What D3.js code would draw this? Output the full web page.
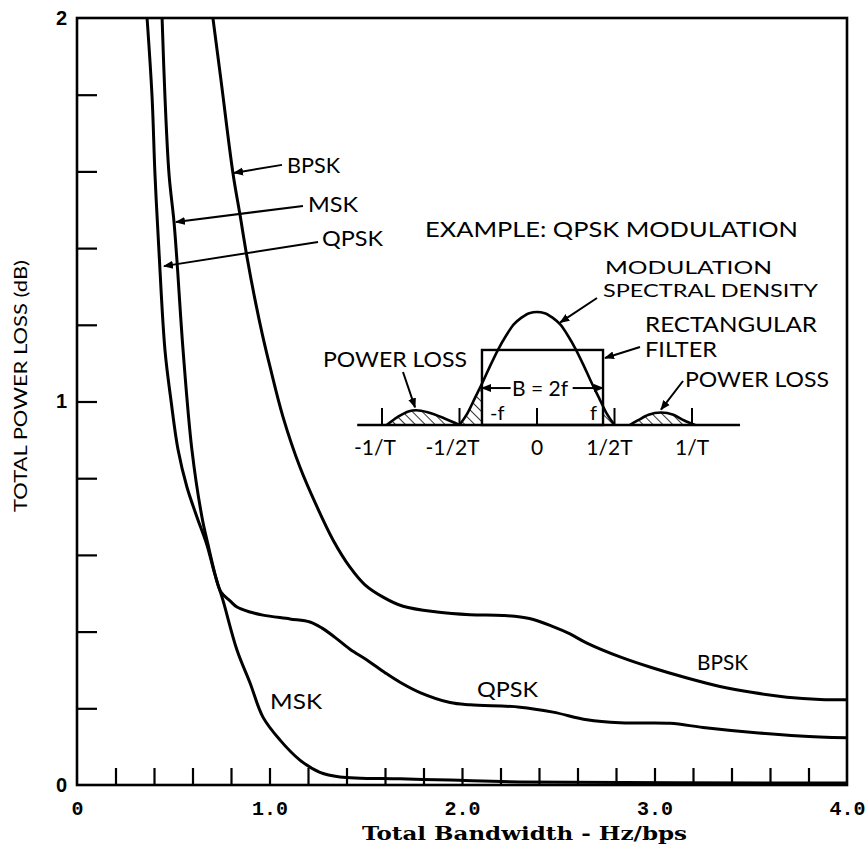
<!DOCTYPE html>
<html>
<head>
<meta charset="utf-8">
<script src="https://cdn.jsdelivr.net/npm/d3@7"></script>
<style>
  body { margin: 0; background: #fff; }
  svg text { fill: #000; }
</style>
</head>
<body>
<svg id="chart" width="868" height="852"></svg>
<script>
// ---- data ----
const xTickLabels = ['0', '1.0', '2.0', '3.0', '4.0'];
const yTickLabels = ['0', '1', '2'];

// BPSK: total bandwidth (Hz/bps) vs total power loss (dB)
const bpskBw   = [0.706, 0.748, 0.810, 0.847, 0.883, 0.925, 0.961, 1.003, 1.070, 1.158, 1.247, 1.330, 1.418, 1.496, 1.590, 1.694, 1.870, 2.042, 2.213, 2.350, 2.473, 2.561, 2.649, 2.821, 2.992, 3.169, 3.340, 3.512, 3.688, 3.860, 4.000];
const bpskLoss = [2.000, 1.838, 1.596, 1.486, 1.377, 1.265, 1.179, 1.090, 0.960, 0.829, 0.725, 0.639, 0.568, 0.522, 0.490, 0.466, 0.451, 0.444, 0.442, 0.434, 0.413, 0.394, 0.370, 0.334, 0.305, 0.279, 0.257, 0.241, 0.229, 0.223, 0.222];

const qpskBw   = [0.364, 0.390, 0.405, 0.426, 0.457, 0.488, 0.525, 0.571, 0.623, 0.675, 0.717, 0.748, 0.795, 0.831, 0.899, 0.966, 1.106, 1.210, 1.273, 1.340, 1.418, 1.506, 1.600, 1.678, 1.782, 1.938, 2.042, 2.301, 2.473, 2.649, 2.821, 3.081, 3.252, 3.512, 3.756, 4.000];
const qpskLoss = [2.000, 1.794, 1.593, 1.390, 1.134, 1.004, 0.874, 0.777, 0.699, 0.626, 0.548, 0.503, 0.480, 0.464, 0.451, 0.443, 0.433, 0.425, 0.409, 0.385, 0.354, 0.326, 0.293, 0.268, 0.241, 0.215, 0.209, 0.203, 0.190, 0.170, 0.162, 0.161, 0.150, 0.137, 0.128, 0.123];

const mskBw   = [0.442, 0.457, 0.478, 0.504, 0.519, 0.551, 0.597, 0.649, 0.681, 0.722, 0.758, 0.831, 0.899, 0.966, 1.055, 1.158, 1.262, 1.366, 1.678, 1.938, 2.301, 4.000];
const mskLoss = [2.000, 1.794, 1.593, 1.468, 1.369, 1.134, 0.874, 0.699, 0.626, 0.540, 0.482, 0.352, 0.266, 0.177, 0.117, 0.065, 0.033, 0.021, 0.016, 0.013, 0.008, 0.005];

// inset: QPSK spectrum (frequency in units of 1/T, relative density)
const lobeFreq  = [-0.5, -0.45, -0.4, -0.35, -0.3, -0.25, -0.2, -0.15, -0.1, -0.05, 0, 0.05, 0.1, 0.15, 0.2, 0.25, 0.3, 0.35, 0.4, 0.45, 0.5];
const lobeLevel = [0, 0.10, 0.24, 0.38, 0.53, 0.67, 0.79, 0.89, 0.95, 0.99, 1, 0.99, 0.95, 0.89, 0.79, 0.67, 0.53, 0.38, 0.24, 0.10, 0];
const leftSideFreq   = [-0.97, -0.9, -0.83, -0.78, -0.7, -0.6, -0.5];
const leftSideLevel  = [0, 0.07, 0.12, 0.13, 0.11, 0.06, 0];
const rightSideFreq  = [0.6, 0.65, 0.72, 0.8, 0.88, 0.95, 1.02];
const rightSideLevel = [0, 0.04, 0.09, 0.11, 0.09, 0.04, 0];
const filterEdges = [-0.355, 0.426];
const filterLevel = 0.664;
const insetTicks = [-1, -0.5, 0, 0.5, 1];
const insetTickLabels = ['-1/T', '-1/2T', '0', '1/2T', '1/T'];

// ---- setup ----
const svg = d3.select('#chart');
const margin = { top: 18, right: 21, bottom: 67, left: 77 };
const width = 868 - margin.left - margin.right;
const height = 852 - margin.top - margin.bottom;

const x = d3.scaleLinear().domain([0, 4]).range([margin.left, margin.left + width]);
const y = d3.scaleLinear().domain([0, 2]).range([margin.top + height, margin.top]);

const sans = 'Lato, "DejaVu Sans", sans-serif';

const defs = svg.append('defs');
defs.append('marker')
    .attr('id', 'arrow')
    .attr('viewBox', '0 0 10 10')
    .attr('refX', 9).attr('refY', 5)
    .attr('markerWidth', 5).attr('markerHeight', 5)
    .attr('markerUnits', 'strokeWidth')
    .attr('orient', 'auto')
    .append('path')
    .attr('d', 'M0,1 L10,5 L0,9 Z')
    .attr('fill', '#000');

const hatch = defs.append('pattern')
    .attr('id', 'hatch')
    .attr('patternUnits', 'userSpaceOnUse')
    .attr('width', 7).attr('height', 7)
    .attr('patternTransform', 'rotate(-45)');
hatch.append('line')
    .attr('x1', 0).attr('y1', 0).attr('x2', 0).attr('y2', 7)
    .attr('stroke', '#000').attr('stroke-width', 1.6);

// frame
svg.append('rect')
    .attr('x', x(0)).attr('y', y(2))
    .attr('width', x(4) - x(0)).attr('height', y(0) - y(2))
    .attr('fill', 'none').attr('stroke', '#000').attr('stroke-width', 2.6);

// minor ticks (every 0.2), pointing inward
const xMinor = d3.range(0.2, 3.9, 0.2);
const yMinor = d3.range(0.2, 1.9, 0.2);
svg.append('g')
    .attr('transform', `translate(0,${y(0)})`)
    .call(d3.axisBottom(x).tickValues(xMinor).tickSize(-17).tickFormat(''))
    .call(g => g.select('.domain').remove())
    .call(g => g.selectAll('line').attr('stroke', '#000').attr('stroke-width', 2.2));
svg.append('g')
    .attr('transform', `translate(${x(0)},0)`)
    .call(d3.axisLeft(y).tickValues(yMinor).tickSize(-20).tickFormat(''))
    .call(g => g.select('.domain').remove())
    .call(g => g.selectAll('line').attr('stroke', '#000').attr('stroke-width', 2.2));

// tick labels
svg.append('g')
    .attr('transform', `translate(0,${y(0)})`)
    .call(d3.axisBottom(x).tickValues([0, 1, 2, 3, 4]).tickSize(0).tickPadding(16)
        .tickFormat((d, i) => xTickLabels[i]))
    .call(g => g.select('.domain').remove())
    .call(g => g.selectAll('text')
        .attr('font-family', '"Liberation Mono", "DejaVu Sans Mono", monospace')
        .attr('font-weight', 'bold').attr('font-size', 20).attr('fill', '#000'));
svg.append('g')
    .attr('transform', `translate(${x(0)},0)`)
    .call(d3.axisLeft(y).tickValues([0, 1, 2]).tickSize(0).tickPadding(10)
        .tickFormat((d, i) => yTickLabels[i]))
    .call(g => g.select('.domain').remove())
    .call(g => g.selectAll('text')
        .attr('font-family', '"Liberation Sans", Arial, sans-serif')
        .attr('font-weight', 'bold').attr('font-size', 20).attr('fill', '#000'));

// axis titles
svg.append('text')
    .attr('x', 362).attr('y', 840)
    .attr('textLength', 325).attr('lengthAdjust', 'spacingAndGlyphs')
    .attr('font-family', '"DejaVu Serif", "Liberation Serif", serif')
    .attr('font-weight', 'bold').attr('font-size', 19)
    .text('Total Bandwidth - Hz/bps');
svg.append('text')
    .attr('transform', 'rotate(-90)')
    .attr('x', -386).attr('y', 27)
    .attr('text-anchor', 'middle')
    .attr('textLength', 252).attr('lengthAdjust', 'spacingAndGlyphs')
    .attr('font-family', sans).attr('font-size', 17)
    .text('TOTAL POWER LOSS (dB)');

// curves
const series = [
    { name: 'BPSK', bw: bpskBw, loss: bpskLoss },
    { name: 'QPSK', bw: qpskBw, loss: qpskLoss },
    { name: 'MSK', bw: mskBw, loss: mskLoss }
];
const line = d3.line()
    .x(d => x(d[0]))
    .y(d => y(d[1]))
    .curve(d3.curveCatmullRom.alpha(0.5));
svg.append('g').selectAll('path')
    .data(series)
    .join('path')
    .attr('d', s => line(s.bw.map((b, i) => [b, s.loss[i]])))
    .attr('fill', 'none')
    .attr('stroke', '#000')
    .attr('stroke-width', 3)
    .attr('stroke-linejoin', 'round');

// curve labels
function label(txt, x0, x1, base, size) {
    svg.append('text')
        .attr('x', x0).attr('y', base)
        .attr('textLength', x1 - x0).attr('lengthAdjust', 'spacingAndGlyphs')
        .attr('font-family', sans).attr('font-size', size)
        .text(txt);
}
function arrow(x1, y1, x2, y2, w) {
    svg.append('line')
        .attr('x1', x1).attr('y1', y1).attr('x2', x2).attr('y2', y2)
        .attr('stroke', '#000').attr('stroke-width', w || 2)
        .attr('marker-end', 'url(#arrow)');
}

// labels along the curves, placed in data coordinates
label('MSK', x(1.003), x(1.273), y(0.198), 21);
label('QPSK', x(2.078), x(2.395), y(0.229), 21);
label('BPSK', x(3.221), x(3.486), y(0.300), 21);

// leader labels at top left
label('BPSK', x(1.091), x(1.366), y(1.596), 21);
arrow(x(1.065), y(1.617), x(0.816), y(1.596));
label('MSK', x(1.200), x(1.460), y(1.494), 21);
arrow(x(1.174), y(1.510), x(0.514), y(1.468));
label('QPSK', x(1.273), x(1.590), y(1.405), 21);
arrow(x(1.252), y(1.416), x(0.452), y(1.353));

// ---- inset: QPSK modulation example ----
const fx = d3.scaleLinear().domain([-1, 1]).range([382, 692]);
const fy = d3.scaleLinear().domain([0, 1]).range([425, 312]);
const inset = svg.append('g');

label('EXAMPLE:  QPSK MODULATION', 425, 798, 237, 21);
label('MODULATION', 605, 772, 274, 18);
label('SPECTRAL DENSITY', 603, 818, 297, 18);
label('RECTANGULAR', 645, 817, 332, 21);
label('FILTER', 645, 717, 357, 21);
label('POWER LOSS', 323, 467, 367, 21);
label('POWER LOSS', 685, 829, 387, 21);

const area = d3.area()
    .x(d => fx(d[0]))
    .y0(fy(0))
    .y1(d => fy(d[1]))
    .curve(d3.curveMonotoneX);
const lobeLine = d3.line()
    .x(d => fx(d[0]))
    .y(d => fy(d[1]))
    .curve(d3.curveMonotoneX);

const lobe = lobeFreq.map((f, i) => [f, lobeLevel[i]]);
const leftSide = leftSideFreq.map((f, i) => [f, leftSideLevel[i]]);
const rightSide = rightSideFreq.map((f, i) => [f, rightSideLevel[i]]);

// power outside the filter is hatched
const clip = defs.append('clipPath').attr('id', 'outside');
clip.append('rect')
    .attr('x', fx(-1.2)).attr('y', 290)
    .attr('width', fx(filterEdges[0]) - fx(-1.2)).attr('height', 140);
clip.append('rect')
    .attr('x', fx(filterEdges[1])).attr('y', 290)
    .attr('width', fx(1.3) - fx(filterEdges[1])).attr('height', 140);

inset.append('path').attr('d', area(lobe))
    .attr('fill', 'url(#hatch)').attr('clip-path', 'url(#outside)');
inset.append('path').attr('d', area(leftSide)).attr('fill', 'url(#hatch)');
inset.append('path').attr('d', area(rightSide)).attr('fill', 'url(#hatch)');

[lobe, leftSide, rightSide].forEach(d => {
    inset.append('path').attr('d', lobeLine(d))
        .attr('fill', 'none').attr('stroke', '#000').attr('stroke-width', 2.6);
});

// rectangular filter
inset.append('rect')
    .attr('x', fx(filterEdges[0])).attr('y', fy(filterLevel))
    .attr('width', fx(filterEdges[1]) - fx(filterEdges[0]))
    .attr('height', fy(0) - fy(filterLevel))
    .attr('fill', 'none').attr('stroke', '#000').attr('stroke-width', 2.4);

// frequency axis of the inset
inset.append('line')
    .attr('x1', fx(-1.16)).attr('x2', fx(1.31))
    .attr('y1', fy(0)).attr('y2', fy(0))
    .attr('stroke', '#000').attr('stroke-width', 2.4);
inset.selectAll('.itick')
    .data(insetTicks)
    .join('line')
    .attr('class', 'itick')
    .attr('x1', d => fx(d)).attr('x2', d => fx(d))
    .attr('y1', fy(0) - 17).attr('y2', fy(0))
    .attr('stroke', '#000').attr('stroke-width', 2);
inset.selectAll('.ilabel')
    .data(insetTicks)
    .join('text')
    .attr('class', 'ilabel')
    .attr('x', d => fx(d) - (d < 0 ? 7 : (d === 0.5 ? 5 : 0)))
    .attr('y', 455)
    .attr('text-anchor', 'middle')
    .attr('font-family', sans).attr('font-size', 21)
    .text((d, i) => insetTickLabels[i]);

// B = 2f dimension
inset.append('text')
    .attr('x', 540).attr('y', 396)
    .attr('text-anchor', 'middle')
    .attr('font-family', sans).attr('font-size', 21)
    .text('B = 2f');
arrow(fx(-0.17), fy(0.327), fx(filterEdges[0]), fy(0.327), 2);
arrow(fx(0.23), fy(0.327), fx(filterEdges[1]), fy(0.327), 2);
inset.append('text')
    .attr('x', fx(filterEdges[0]) + 8).attr('y', 420)
    .attr('font-family', sans).attr('font-size', 20)
    .text('-f');
inset.append('text')
    .attr('x', fx(filterEdges[1]) - 13).attr('y', 420)
    .attr('font-family', sans).attr('font-size', 20)
    .text('f');

// leaders inside inset
arrow(403, 372, fx(-0.787), fy(0.13) - 3);
arrow(683, 381, fx(0.8), fy(0.11) - 3);
arrow(597, 298, fx(0.15), fy(0.89) - 2);
arrow(640, 347, fx(filterEdges[1]) + 2, fy(filterLevel) + 8);
</script>
</body>
</html>
